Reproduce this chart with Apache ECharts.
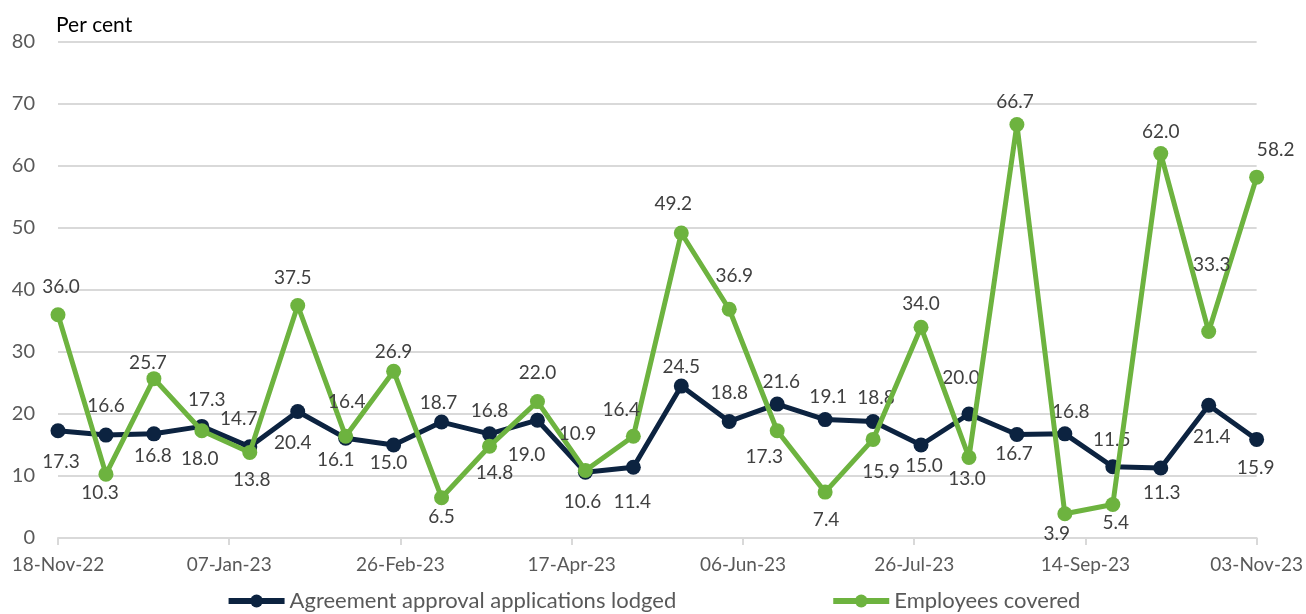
<!DOCTYPE html>
<html>
<head>
<meta charset="utf-8">
<title>Agreement approvals</title>
<script src="https://cdn.jsdelivr.net/npm/echarts@6/dist/echarts.min.js"></script>
<style>
    html, body { margin: 0; padding: 0; background: #fff; }
    #myChart { width: 1306px; height: 614px; }
</style>
</head>
<body>
<div id="myChart"></div>
<script>
    // fortnightly periods
    var periods = ['2022-11-18', '2022-12-02', '2022-12-16', '2022-12-30', '2023-01-13', '2023-01-27',
        '2023-02-10', '2023-02-24', '2023-03-10', '2023-03-24', '2023-04-07', '2023-04-21',
        '2023-05-05', '2023-05-19', '2023-06-02', '2023-06-16', '2023-06-30', '2023-07-14',
        '2023-07-28', '2023-08-11', '2023-08-25', '2023-09-08', '2023-09-22', '2023-10-06',
        '2023-10-20', '2023-11-03'];
    var applications = [17.3, 16.6, 16.8, 18.0, 14.7, 20.4, 16.1, 15.0, 18.7, 16.8, 19.0, 10.6, 11.4,
        24.5, 18.8, 21.6, 19.1, 18.8, 15.0, 20.0, 16.7, 16.8, 11.5, 11.3, 21.4, 15.9];
    var employees = [36.0, 10.3, 25.7, 17.3, 13.8, 37.5, 16.4, 26.9, 6.5, 14.8, 22.0, 10.9, 16.4,
        49.2, 36.9, 17.3, 7.4, 15.9, 34.0, 13.0, 66.7, 3.9, 5.4, 62.0, 33.3, 58.2];
    var tickLabels = ['18-Nov-22', '07-Jan-23', '26-Feb-23', '17-Apr-23', '06-Jun-23', '26-Jul-23', '14-Sep-23', '03-Nov-23'];
    var seriesNames = ['Agreement approval applications lodged', 'Employees covered'];

    // value label placement, [dx, dy] from the point centre (as laid out in the original)
    var appLabelOffset = [[3, 31], [0, -29], [-1, 22], [-2, 32], [-11, -28], [-5, 31], [-10, 22], [-5, 18],
        [-3, -19], [0, -23], [-11, 35], [-3, 30], [-1, 35], [0, -19], [0, -29], [4, -22], [3, -23],
        [3, -24], [3, 21], [-8, -36], [-3, 19], [6, -22], [-1, -27], [1, 25], [3, 32], [-1, 28]];
    var empLabelOffset = [[3, -28], [-6, 19], [-6, -16], [5, -31], [2, 27], [-5, -28], [1, -34], [0, -19],
        [0, 19], [5, 27], [0, -29], [-8, -37], [-12, -26], [-8, -29], [5, -33], [-13, 26], [1, 28],
        [8, 32], [0, -23], [-2, 21], [-2, -23], [-8, 20], [3, 18], [0, -22], [3, -67], [19, -27]];

    var DAY = 86400000;
    var start = Date.parse(periods[0]);
    function dayOf(d) { return Math.round((Date.parse(d) - start) / DAY); }

    function points(vals, offsets) {
        return vals.map(function (v, i) {
            return {
                value: [dayOf(periods[i]), v],
                label: { position: 'inside', offset: offsets[i] }
            };
        });
    }

    var labelStyle = {
        show: true,
        fontFamily: 'Lato',
        fontSize: 19,
        color: '#404040',
        align: 'center',
        verticalAlign: 'middle',
        formatter: function (p) { return p.value[1].toFixed(1); }
    };

    var myChart = echarts.init(document.getElementById('myChart'));
    myChart.setOption({
        animation: false,
        textStyle: { fontFamily: 'Lato' },
        grid: { left: 58, right: 48, top: 42, bottom: 76, containLabel: false },
        legend: {
            top: 585,
            left: 'center',
            itemWidth: 56,
            itemHeight: 16,
            itemGap: 154,
            lineStyle: { width: 6 },
            textStyle: { fontFamily: 'Lato', fontSize: 22, color: '#595959' },
            data: seriesNames
        },
        xAxis: {
            type: 'value',
            min: 0, max: 350, interval: 50,
            axisLine: { lineStyle: { color: '#D9D9D9', width: 2 } },
            axisTick: { show: true, length: 7, lineStyle: { color: '#D9D9D9', width: 2 } },
            splitLine: { show: false },
            axisLabel: {
                fontFamily: 'Lato', fontSize: 19, color: '#595959', margin: 17,
                formatter: function (v) { return tickLabels[Math.round(v / 50)]; }
            }
        },
        yAxis: {
            type: 'value',
            min: 0, max: 80, interval: 10,
            name: 'Per cent',
            nameLocation: 'end',
            nameGap: 6,
            nameTextStyle: { fontFamily: 'Lato', fontSize: 21, color: '#000', align: 'left', padding: [0, 0, 0, -2] },
            axisLine: { show: false },
            axisTick: { show: false },
            axisLabel: { fontFamily: 'Lato', fontSize: 20, color: '#595959', margin: 23 },
            splitLine: { lineStyle: { color: '#D9D9D9', width: 2 } }
        },
        series: [
            {
                name: seriesNames[0],
                type: 'line',
                data: points(applications, appLabelOffset),
                symbol: 'circle',
                symbolSize: 15,
                itemStyle: { color: '#0C2340' },
                lineStyle: { color: '#0C2340', width: 5 },
                label: labelStyle,
                z: 2
            },
            {
                name: seriesNames[1],
                type: 'line',
                data: points(employees, empLabelOffset),
                symbol: 'circle',
                symbolSize: 15,
                itemStyle: { color: '#6DB33F' },
                lineStyle: { color: '#6DB33F', width: 5 },
                label: labelStyle,
                z: 3
            }
        ]
    });
</script>
</body>
</html>
